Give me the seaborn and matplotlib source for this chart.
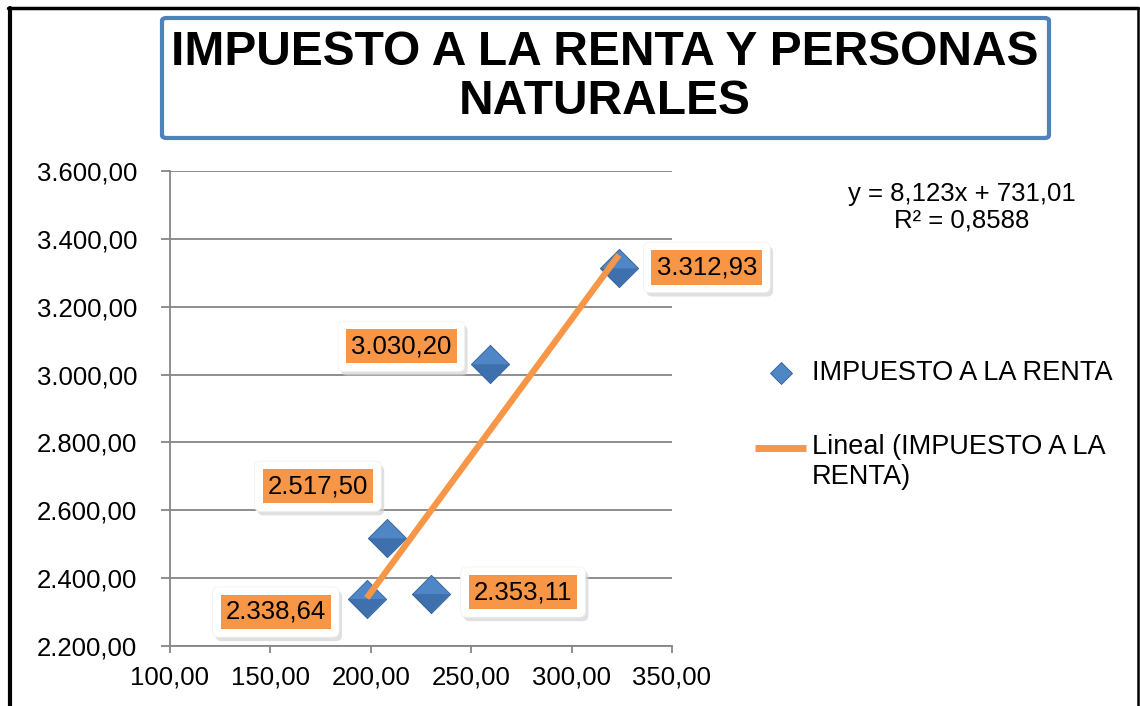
import matplotlib
matplotlib.use("Agg")
import matplotlib.pyplot as plt
import matplotlib.transforms as mtransforms
import seaborn as sns
import pandas as pd
from matplotlib.lines import Line2D
from matplotlib.patches import FancyBboxPatch
from matplotlib.path import Path
from matplotlib.ticker import FuncFormatter, MultipleLocator

# data
personas = [198.0, 208.0, 230.0, 259.5, 323.5]
impuesto = [2338.64, 2517.50, 2353.11, 3030.20, 3312.93]
serie = "IMPUESTO A LA RENTA"
trend_label = "Lineal (IMPUESTO A LA\nRENTA)"
equation = "y = 8,123x + 731,01\nR² = 0,8588"
title = "IMPUESTO A LA RENTA Y PERSONAS\nNATURALES"
# label offsets in pixels (dx, dy) from each point
label_offsets = [(-91, -13), (-69, 52), (92, 2), (-89, 18), (88, 1)]

BLUE = "#4F86C6"
BLUE_DARK = "#2F5E98"
BLUE_EDGE = "#2E5C96"
ORANGE = "#F79646"
GRID = "#868686"

df = pd.DataFrame({"x": personas, "y": impuesto})


def es_num(v, pos=None):
    s = f"{v:,.2f}"
    return s.replace(",", "#").replace(".", ",").replace("#", ".")


sns.set_style("white", {"text.color": "black", "xtick.color": "black",
                        "ytick.color": "black", "axes.labelcolor": "black"})
plt.rcParams["font.family"] = ["Liberation Sans", "DejaVu Sans"]

fig = plt.figure(figsize=(11.4, 7.06), dpi=100)
ax = fig.add_axes([170 / 1140, 1 - 646 / 706, 502 / 1140, 475 / 706])

# diamonds, with a darker lower half for the bevel look
lower_half = Path([(-1, 0), (1, 0), (0, -1), (-1, 0)],
                  [Path.MOVETO, Path.LINETO, Path.LINETO, Path.CLOSEPOLY])
sns.scatterplot(data=df, x="x", y="y", marker="D", s=380, color=BLUE,
                edgecolor=BLUE_EDGE, linewidth=0.6, ax=ax, zorder=3, legend=False)
sns.scatterplot(data=df, x="x", y="y", marker=lower_half, s=740, color=BLUE_DARK,
                edgecolor="none", linewidth=0, alpha=0.55, ax=ax, zorder=3.1,
                legend=False)
sns.regplot(data=df, x="x", y="y", scatter=False, ci=None, truncate=True, ax=ax,
            line_kws={"color": ORANGE, "lw": 4.5, "zorder": 4, "solid_capstyle": "butt"})

ax.set_xlim(100, 350)
ax.set_ylim(2200, 3600)
ax.xaxis.set_major_locator(MultipleLocator(50))
ax.yaxis.set_major_locator(MultipleLocator(200))
ax.xaxis.set_major_formatter(FuncFormatter(es_num))
ax.yaxis.set_major_formatter(FuncFormatter(es_num))
ax.set_xlabel("")
ax.set_ylabel("")
ax.yaxis.grid(True, color=GRID, lw=1.3)
ax.set_axisbelow(True)
for side in ["top", "right"]:
    ax.spines[side].set_visible(False)
for side in ["left", "bottom"]:
    ax.spines[side].set_color(GRID)
    ax.spines[side].set_linewidth(1.3)
ax.tick_params(axis="y", direction="out", length=6.5, width=1.3, color=GRID,
               labelcolor="black", labelsize=18.5, pad=17, left=True)
ax.tick_params(axis="x", direction="out", length=5, width=1.3, color=GRID,
               labelcolor="black", labelsize=18.5, pad=9, bottom=True)

# data labels in orange boxes
labels = []
for (x, y), (dx, dy) in zip(zip(personas, impuesto), label_offsets):
    t = ax.annotate(es_num(y), xy=(x, y), xytext=(dx, dy), textcoords="offset pixels",
                    ha="center", va="center", fontsize=18.5, color="black", zorder=7,
                    bbox=dict(boxstyle="square,pad=0.2", fc=ORANGE, ec="none"))
    labels.append(t)

# white callouts with a soft shadow behind each label
fig.canvas.draw()
renderer = fig.canvas.get_renderer()
pix = mtransforms.IdentityTransform()
for t in labels:
    bb = t.get_bbox_patch().get_window_extent(renderer)
    x0, y0, w, h = bb.x0 - 8, bb.y0 - 8, bb.width + 16, bb.height + 16
    ax.add_patch(FancyBboxPatch((x0 + 3, y0 - 4), w, h,
                                boxstyle="round,pad=0,rounding_size=6",
                                fc="#d4d4d4", ec="none", alpha=0.7,
                                transform=pix, zorder=5, clip_on=False))
    ax.add_patch(FancyBboxPatch((x0, y0), w, h,
                                boxstyle="round,pad=0,rounding_size=6",
                                fc="white", ec="#f0f0f0", lw=0.5,
                                transform=pix, zorder=6, clip_on=False))

# trendline equation
fig.text(962 / 1140, 1 - 207 / 706, equation, ha="center", va="center",
         fontsize=18.5, linespacing=1.15)

# legend, drawn by hand so the line sits on the first text line
tr = fig.transFigure
fig.add_artist(Line2D([781 / 1140], [1 - 373 / 706], marker="D", ls="none", ms=11,
                      color=BLUE, mec=BLUE_EDGE, mew=0.6, transform=tr))
fig.text(812 / 1140, 1 - 373 / 706, serie, ha="left", va="center", fontsize=19.5)
fig.add_artist(Line2D([755 / 1140, 806 / 1140], [1 - 448 / 706, 1 - 448 / 706],
                      color=ORANGE, lw=5, solid_capstyle="butt", transform=tr))
fig.text(812 / 1140, 1 - 448 / 706, trend_label, ha="left", va="top",
         fontsize=19.5, linespacing=1.18,
         transform=tr + mtransforms.ScaledTranslation(0, 14 / 100, fig.dpi_scale_trans))

# title box
fig.patches.append(FancyBboxPatch((162 / 1140, 1 - 138 / 706), 887 / 1140, 120 / 706,
                                  boxstyle="round,pad=0,rounding_size=0.004",
                                  transform=tr, fc="white", ec="#4F81BD", lw=3))
fig.text(605 / 1140, 1 - 77 / 706, title, ha="center", va="center",
         fontsize=34.5, fontweight="bold", linespacing=1.1)

# outer frame
fig.add_artist(Line2D([10 / 1140, 10 / 1140], [0, 1 - 8 / 706], color="black",
                      lw=3, transform=tr))
fig.add_artist(Line2D([8 / 1140, 1138 / 1140], [1 - 8 / 706, 1 - 8 / 706],
                      color="black", lw=2.5, transform=tr))
fig.add_artist(Line2D([1138 / 1140, 1138 / 1140], [0, 1 - 8 / 706], color="black",
                      lw=1.8, transform=tr))

fig.savefig("out.png", dpi=100)
